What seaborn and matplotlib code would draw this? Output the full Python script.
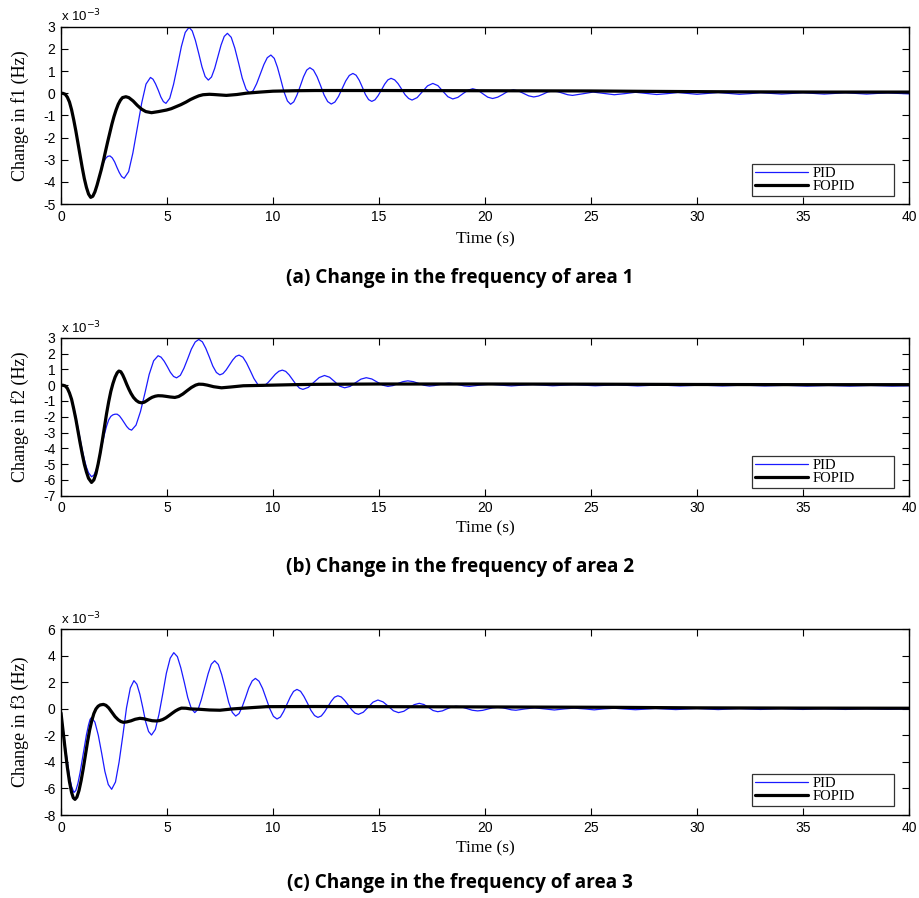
import numpy as np
import pandas as pd
import matplotlib
matplotlib.use("Agg")
import matplotlib.pyplot as plt
import seaborn as sns

# Frequency deviations in units of 1e-3 Hz, sampled along the time axis (s)

# ---- Area 1 ----
t_pid_1 = [0, 0.1, 0.2, 0.3, 0.4, 0.5, 0.6, 0.7, 0.8, 0.9, 1.0, 1.1, 1.2, 1.3, 1.4, 1.5, 1.6, 1.7,
           1.8, 1.9, 2.0, 2.1, 2.2, 2.31, 2.42, 2.53, 2.64, 2.75, 2.86, 2.98,
           3.19, 3.39, 3.60, 3.81, 4.01, 4.22, 4.34, 4.46, 4.59, 4.71, 4.83, 4.95,
           5.13, 5.31, 5.50, 5.68, 5.86, 6.04, 6.19, 6.34, 6.50, 6.65, 6.80, 6.95,
           7.10, 7.25, 7.40, 7.55, 7.70, 7.85, 8.03, 8.20, 8.38, 8.55, 8.73, 8.9,
           9.07, 9.23, 9.40, 9.57, 9.73, 9.9, 10.06, 10.21, 10.37, 10.52, 10.68, 10.83,
           10.98, 11.13, 11.29, 11.44, 11.59, 11.74, 11.91, 12.08, 12.25, 12.41, 12.58, 12.75,
           12.92, 13.09, 13.26, 13.43, 13.60, 13.77, 13.92, 14.07, 14.22, 14.36, 14.51, 14.66,
           14.81, 14.96, 15.12, 15.27, 15.42, 15.57, 15.74, 15.90, 16.07, 16.23, 16.40, 16.56,
           16.80, 17.05, 17.29, 17.54,
           17.78, 18.01, 18.25, 18.48, 18.72, 18.95, 19.19, 19.42, 19.66, 19.89, 20.13, 20.36,
           20.60, 20.85, 21.09, 21.34, 21.58, 21.82, 22.06, 22.30, 22.52, 22.75, 22.97, 23.20,
           23.43, 23.66, 23.90, 24.13, 24.6, 25.1, 25.6, 26.1, 26.6, 27.1, 27.6, 28.1, 28.6,
           29.1, 29.55, 30.0, 30.5, 31.0, 31.5, 32.0, 32.5, 33.0, 33.5, 34.0, 34.5, 35.0,
           35.5, 36.0, 36.5, 37.0, 37.5, 38.0, 38.5, 39.0, 39.5, 40.0]
f1_pid = [0, -0.01, -0.05, -0.18, -0.4, -0.75, -1.2, -1.7, -2.25, -2.8, -3.35, -3.85, -4.25, -4.55,
          -4.7, -4.65, -4.45, -4.15, -3.8, -3.45, -3.15, -2.95, -2.85, -2.83, -2.92, -3.1, -3.35,
          -3.58, -3.76, -3.84,
          -3.54, -2.70, -1.57, -0.43, 0.41, 0.71, 0.63, 0.42, 0.13, -0.17, -0.38, -0.46,
          -0.23, 0.40, 1.26, 2.11, 2.74, 2.97, 2.81, 2.38, 1.78, 1.19, 0.75, 0.59,
          0.73, 1.12, 1.65, 2.17, 2.56, 2.70, 2.52, 2.03, 1.35, 0.68, 0.18, 0.0,
          0.12, 0.43, 0.86, 1.29, 1.60, 1.72, 1.57, 1.17, 0.61, 0.06, -0.35, -0.50,
          -0.39, -0.09, 0.33, 0.74, 1.04, 1.15, 1.04, 0.74, 0.33, -0.08, -0.38, -0.49,
          -0.40, -0.15, 0.20, 0.55, 0.80, 0.89, 0.81, 0.58, 0.26, -0.06, -0.29, -0.37,
          -0.30, -0.11, 0.15, 0.41, 0.60, 0.67, 0.60, 0.43, 0.18, -0.07, -0.24, -0.31,
          -0.20, 0.07, 0.33, 0.44,
          0.34, 0.09, -0.16, -0.26, -0.19, -0.03, 0.13, 0.20, 0.14, -0.02, -0.18, -0.24,
          -0.18, -0.05, 0.09, 0.15, 0.10, -0.01, -0.12, -0.17, -0.13, -0.04, 0.06, 0.10,
          0.07, 0.0, -0.07, -0.10, -0.03, 0.05, -0.01, -0.07, -0.02, 0.04, -0.01, -0.06, -0.02,
          0.03, -0.01, -0.05, -0.01, 0.03, -0.01, -0.05, -0.02, 0.02, -0.01, -0.04, -0.01, 0.02,
          -0.01, -0.04, -0.01, 0.02, -0.01, -0.04, -0.01, 0.01, -0.01, -0.03]
t_fo_1 = [0, 0.1, 0.2, 0.3, 0.4, 0.5, 0.6, 0.7, 0.8, 0.9, 1.0, 1.1, 1.2, 1.3, 1.4, 1.5, 1.6, 1.7,
          1.8, 1.9, 2.0, 2.1, 2.2, 2.3, 2.4, 2.5, 2.6, 2.7, 2.8, 2.9, 3.06, 3.2, 3.4, 3.6, 3.8,
          4.0, 4.27, 4.6, 4.98, 5.2, 5.4, 5.65, 5.9, 6.1, 6.3, 6.5, 6.7, 7.0, 7.2, 7.5, 7.8,
          8.3, 8.75, 9.4, 10, 11, 12, 15, 20, 25, 28, 32, 36, 40]
f1_fo = [0, -0.01, -0.05, -0.18, -0.4, -0.75, -1.2, -1.7, -2.25, -2.8, -3.35, -3.85, -4.25, -4.55,
         -4.7, -4.65, -4.45, -4.15, -3.8, -3.45, -3.05, -2.62, -2.2, -1.8, -1.4, -1.05, -0.75,
         -0.5, -0.32, -0.2, -0.16, -0.2, -0.35, -0.55, -0.72, -0.83, -0.88, -0.83, -0.76, -0.70,
         -0.62, -0.52, -0.4, -0.29, -0.2, -0.12, -0.07, -0.05, -0.06, -0.08, -0.1,
         -0.06, 0.0, 0.05, 0.09, 0.11, 0.12, 0.12, 0.11, 0.1, 0.08, 0.06, 0.05, 0.05]

# ---- Area 2 ----
t_pid_2 = [0, 0.1, 0.2, 0.3, 0.4, 0.5, 0.6, 0.7, 0.8, 0.9, 1.0, 1.1, 1.2, 1.3, 1.44, 1.55, 1.65,
           1.75, 1.85, 1.95, 2.05, 2.15, 2.25, 2.35, 2.45, 2.55, 2.65, 2.76, 2.87, 2.99, 3.1,
           3.21, 3.33,
           3.54, 3.75, 3.96, 4.16, 4.37, 4.58, 4.72, 4.87, 5.02, 5.16, 5.31, 5.45,
           5.63, 5.80, 5.98, 6.15, 6.33, 6.5, 6.67, 6.83, 7.0, 7.16, 7.33, 7.49,
           7.64, 7.79, 7.95, 8.10, 8.25, 8.4, 8.58, 8.75, 8.93, 9.10, 9.28, 9.45,
           9.62, 9.78, 9.95, 10.11, 10.28, 10.44, 10.60, 10.76, 10.93, 11.09, 11.25, 11.41,
           11.67, 11.92, 12.18, 12.43,
           12.67, 12.91, 13.14, 13.38, 13.64, 13.89, 14.15, 14.4, 14.66, 14.91, 15.17, 15.42,
           15.66, 15.89, 16.13, 16.36, 16.62, 16.87, 17.13, 17.38, 17.61, 17.84, 18.07, 18.3,
           18.54, 18.78, 19.02, 19.26, 19.75, 20.25, 20.75, 21.25, 21.75, 22.25, 23.2, 24.2,
           25.2, 26.2, 27.2, 28.2, 29.2, 30.2, 31.2, 32.2, 33.2, 34.2, 35.2, 36.2, 37.2, 38.2,
           39.2, 40.0]
f2_pid = [0, -0.01, -0.05, -0.2, -0.45, -0.85, -1.4, -2.0, -2.7, -3.4, -4.1, -4.7, -5.2, -5.55,
          -5.8, -5.7, -5.4, -4.95, -4.35, -3.7, -3.1, -2.6, -2.2, -1.98, -1.88, -1.84, -1.84,
          -1.95, -2.15, -2.4, -2.62, -2.78, -2.85,
          -2.53, -1.67, -0.50, 0.68, 1.54, 1.86, 1.77, 1.51, 1.16, 0.81, 0.55, 0.46,
          0.62, 1.07, 1.68, 2.28, 2.73, 2.89, 2.74, 2.33, 1.77, 1.21, 0.80, 0.65,
          0.73, 0.96, 1.28, 1.59, 1.82, 1.9, 1.77, 1.41, 0.91, 0.42, 0.05, -0.08,
          -0.01, 0.18, 0.44, 0.69, 0.88, 0.95, 0.87, 0.65, 0.34, 0.04, -0.19, -0.27,
          -0.14, 0.17, 0.48, 0.61,
          0.50, 0.22, -0.06, -0.17, -0.08, 0.15, 0.38, 0.47, 0.39, 0.20, 0.0, -0.08,
          -0.03, 0.10, 0.22, 0.27, 0.22, 0.11, -0.01, -0.06, -0.03, 0.03, 0.09, 0.12,
          0.09, 0.02, -0.05, -0.08, 0.0, 0.06, 0.0, -0.05, 0.0, 0.04, -0.04, 0.03,
          -0.04, 0.02, -0.05, 0.01, -0.05, 0.0, -0.05, 0.0, -0.05, -0.01, -0.06, -0.02, -0.06, -0.02,
          -0.06, -0.04]
t_fo_2 = [0, 0.1, 0.2, 0.3, 0.4, 0.5, 0.6, 0.7, 0.8, 0.9, 1.0, 1.1, 1.2, 1.3, 1.44, 1.55, 1.65,
          1.75, 1.85, 1.95, 2.05, 2.15, 2.25, 2.35, 2.45, 2.55, 2.65, 2.73, 2.82, 2.91, 3.0,
          3.1, 3.2, 3.3, 3.42, 3.55, 3.67, 3.8, 3.93, 4.05, 4.18, 4.3, 4.45, 4.58, 4.78, 4.95,
          5.15, 5.37, 5.55, 5.75, 5.95, 6.15, 6.35, 6.5, 6.7, 6.9, 7.2, 7.57, 8.0, 8.6,
          9.3, 10, 11, 12, 15, 20, 25, 30, 35, 40]
f2_fo = [0, -0.01, -0.05, -0.2, -0.5, -0.9, -1.5, -2.15, -2.9, -3.65, -4.35, -5.0, -5.5, -5.9,
         -6.16, -6.0, -5.6, -5.0, -4.3, -3.5, -2.65, -1.8, -1.05, -0.4, 0.1, 0.5, 0.78, 0.89,
         0.85, 0.65, 0.38, 0.05, -0.25, -0.52, -0.78, -0.97, -1.08, -1.12, -1.08, -0.98,
         -0.86, -0.77, -0.7, -0.67, -0.68, -0.71, -0.75, -0.78, -0.72, -0.56, -0.35, -0.15,
         0.0, 0.06, 0.05, 0.0, -0.1, -0.17, -0.12, -0.04,
         -0.02, 0.0, 0.03, 0.05, 0.07, 0.07, 0.06, 0.04, 0.03, 0.03]

# ---- Area 3 ----
t_pid_3 = [0, 0.1, 0.2, 0.3, 0.4, 0.5, 0.61, 0.7, 0.8, 0.9, 1.0, 1.1, 1.2, 1.3, 1.37, 1.44,
           1.60, 1.76, 1.92, 2.07, 2.23, 2.39, 2.57, 2.74, 2.92, 3.09, 3.27, 3.44,
           3.58, 3.72, 3.86, 3.99, 4.13, 4.27, 4.45, 4.62, 4.80, 4.97, 5.15, 5.32,
           5.49, 5.65, 5.82, 5.98, 6.15, 6.31, 6.47, 6.62, 6.78, 6.94, 7.09, 7.25,
           7.42, 7.58, 7.75, 7.91, 8.08, 8.24, 8.40, 8.55, 8.71, 8.86, 9.02, 9.17,
           9.34, 9.51, 9.68, 9.85, 10.02, 10.19, 10.35, 10.50, 10.66, 10.82, 10.97, 11.13,
           11.30, 11.46, 11.63, 11.79, 11.96, 12.12, 12.28, 12.43, 12.59, 12.75, 12.90, 13.06,
           13.22, 13.38, 13.55, 13.71, 13.87, 14.03,
           14.26, 14.49, 14.72, 14.95, 15.19, 15.44, 15.68, 15.92,
           16.17, 16.41, 16.66, 16.9, 17.12, 17.34, 17.55, 17.77, 17.99, 18.2, 18.42, 18.63,
           18.89, 19.14, 19.40, 19.65, 19.89, 20.12, 20.36, 20.6, 20.82, 21.03, 21.25, 21.46,
           21.9, 22.35, 22.8, 23.27, 23.75, 24.2, 24.7, 25.15, 25.6, 26.1, 26.6, 27.1, 27.6,
           28.05, 28.5, 29.0, 29.5, 30.0, 30.5, 31.0, 31.5, 32.0, 32.5, 33.0, 33.5, 34.0,
           34.5, 35.0, 35.5, 36.0, 36.5, 37.0, 38.0, 39.0, 40.0]
f3_pid = [-0.3, -1.5, -2.8, -4.0, -5.1, -5.85, -6.3, -6.15, -5.6, -4.8, -3.85, -2.85, -1.95,
          -1.2, -0.8, -0.64,
          -1.00, -1.99, -3.35, -4.71, -5.70, -6.06, -5.51, -4.01, -1.97, 0.08, 1.58, 2.13,
          1.86, 1.11, 0.08, -0.95, -1.70, -1.97, -1.55, -0.42, 1.14, 2.69, 3.82, 4.24,
          3.94, 3.11, 1.98, 0.85, 0.02, -0.28, -0.02, 0.70, 1.68, 2.65, 3.37, 3.63,
          3.35, 2.59, 1.55, 0.50, -0.26, -0.54, -0.35, 0.17, 0.88, 1.59, 2.11, 2.3,
          2.09, 1.54, 0.77, 0.01, -0.56, -0.76, -0.61, -0.20, 0.36, 0.91, 1.32, 1.47,
          1.33, 0.94, 0.42, -0.11, -0.50, -0.64, -0.53, -0.23, 0.18, 0.58, 0.88, 0.99,
          0.90, 0.64, 0.29, -0.06, -0.32, -0.41,
          -0.25, 0.13, 0.51, 0.67, 0.53, 0.20, -0.14, -0.28,
          -0.18, 0.07, 0.32, 0.42, 0.33, 0.11, -0.12, -0.21, -0.15, 0.0, 0.14, 0.2,
          0.15, 0.03, -0.10, -0.15, -0.11, -0.02, 0.08, 0.12, 0.09, 0.01, -0.07, -0.10,
          0.0, 0.08, 0.0, -0.08, 0.0, 0.06, 0.0, -0.07, 0.0, 0.05, -0.01, -0.06, -0.01,
          0.03, -0.01, -0.05, -0.01, 0.03, -0.01, -0.05, -0.01, 0.02, -0.01, -0.04, -0.01, 0.02,
          -0.01, -0.04, -0.01, 0.01, -0.01, -0.04, 0.01, -0.03, 0.0]
t_fo_3 = [0, 0.1, 0.2, 0.3, 0.4, 0.5, 0.58, 0.66, 0.75, 0.85, 0.95, 1.05, 1.15, 1.25, 1.35,
          1.45, 1.55, 1.65, 1.75, 1.85, 2.0, 2.12, 2.25, 2.4, 2.55, 2.7, 2.82, 2.94, 3.1, 3.3,
          3.5, 3.72, 3.9, 4.1, 4.3, 4.5, 4.65, 4.8, 4.95, 5.1, 5.25, 5.4, 5.55, 5.68, 5.9,
          6.1, 6.55, 7.0, 7.5, 8.1, 8.74, 9.7, 12, 15, 20, 26, 30, 35, 40]
f3_fo = [-0.3, -1.7, -3.1, -4.4, -5.5, -6.3, -6.7, -6.82, -6.65, -6.15, -5.4, -4.5, -3.5, -2.5,
         -1.6, -0.9, -0.35, 0.0, 0.2, 0.3, 0.34, 0.27, 0.08, -0.25, -0.58, -0.82, -0.95, -1.01,
         -0.98, -0.9, -0.78, -0.71, -0.74, -0.82, -0.89, -0.91, -0.88, -0.8, -0.67, -0.5,
         -0.32, -0.15, -0.02, 0.06, 0.05, 0.0, -0.03, -0.08, -0.1, 0.0, 0.07, 0.17, 0.18, 0.17,
         0.15, 0.12, 0.08, 0.06, 0.05]

y_labels = ["Change in f1 (Hz)", "Change in f2 (Hz)", "Change in f3 (Hz)"]
captions = ["(a) Change in the frequency of area 1",
            "(b) Change in the frequency of area 2",
            "(c) Change in the frequency of area 3"]
y_limits = [(-5, 3), (-7, 3), (-8, 6)]
y_steps = [1, 1, 2]

sns.set_style("ticks")
plt.rcParams["axes.unicode_minus"] = False
plt.rcParams["font.family"] = ["Liberation Sans", "DejaVu Sans"]
for key in ("text.color", "axes.labelcolor", "xtick.color", "ytick.color", "axes.edgecolor"):
    plt.rcParams[key] = "black"

fig = plt.figure(figsize=(9.2, 8.98), dpi=100)

# axes boxes in figure fraction: left, bottom, width, height
boxes = [(0.0663, 0.7728, 0.9217, 0.1975),
         (0.0663, 0.4480, 0.9217, 0.1759),
         (0.0663, 0.0924, 0.9217, 0.2068)]
caption_y = [0.690, 0.369, 0.017]
legend_y0 = [0.045, 0.047, 0.048]
xlabel_pad = [5.5, 4, 4]

series = [
    (t_pid_1, f1_pid, t_fo_1, f1_fo),
    (t_pid_2, f2_pid, t_fo_2, f2_fo),
    (t_pid_3, f3_pid, t_fo_3, f3_fo),
]

serif = ["Liberation Serif", "DejaVu Serif"]

for i, (tp, vp, tf, vf) in enumerate(series):
    ax = fig.add_axes(boxes[i])
    df = pd.concat([
        pd.DataFrame({"t": tp, "v": vp, "ctrl": "PID"}),
        pd.DataFrame({"t": tf, "v": vf, "ctrl": "FOPID"}),
    ], ignore_index=True)
    sns.lineplot(data=df[df.ctrl == "PID"], x="t", y="v", ax=ax, color="#1a1aff",
                 linewidth=0.9, label="PID", estimator=None, sort=False)
    sns.lineplot(data=df[df.ctrl == "FOPID"], x="t", y="v", ax=ax, color="black",
                 linewidth=2.3, label="FOPID", estimator=None, sort=False)

    lo, hi = y_limits[i]
    ax.set_xlim(0, 40)
    ax.set_ylim(lo, hi)
    ax.set_xticks(np.arange(0, 41, 5))
    ax.set_yticks(np.arange(lo, hi + 0.01, y_steps[i]))
    ax.tick_params(direction="in", length=5, width=0.8, top=True, right=True,
                   labelsize=10, pad=4)
    for sp in ax.spines.values():
        sp.set_linewidth(1.0)
        sp.set_color("black")
    ax.set_xlabel("Time (s)", fontsize=12.5, family=serif, labelpad=xlabel_pad[i])
    ax.set_ylabel(y_labels[i], fontsize=13, family=serif, labelpad=10)
    ax.text(0.0, 1.012, r"x 10$^{-3}$", transform=ax.transAxes, fontsize=9.5,
            ha="left", va="bottom")

    leg = ax.legend(loc="lower left", bbox_to_anchor=(0.815, legend_y0[i], 0.167, 0.1),
                    mode="expand", borderaxespad=0, frameon=True, fancybox=False,
                    borderpad=0.2, labelspacing=0.0, handlelength=3.6,
                    handletextpad=0.35, prop={"family": serif, "size": 10.5})
    leg.get_frame().set_edgecolor("black")
    leg.get_frame().set_linewidth(0.9)

    fig.text(0.5, caption_y[i], captions[i], ha="center", va="center",
             fontsize=13.7, fontweight="bold", family=["Open Sans", "DejaVu Sans"])

fig.savefig("out.png", dpi=100, facecolor="white")
